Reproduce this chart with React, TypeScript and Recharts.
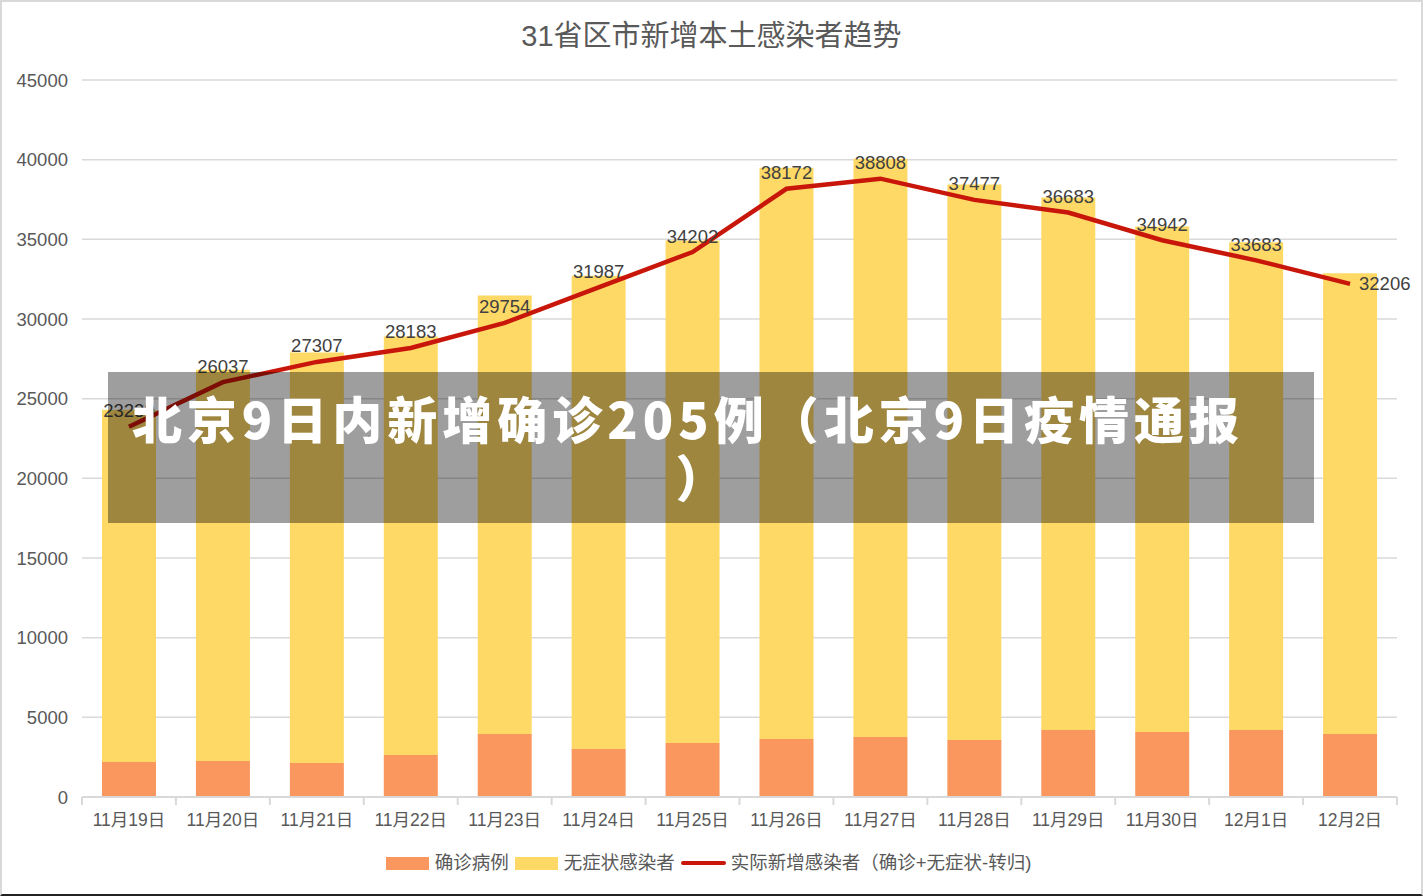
import React from 'react';
import {
  ComposedChart,
  Bar,
  Line,
  XAxis,
  YAxis,
  CartesianGrid,
  LabelList,
} from 'recharts';

const dates = [
  '11月19日', '11月20日', '11月21日', '11月22日', '11月23日', '11月24日', '11月25日',
  '11月26日', '11月27日', '11月28日', '11月29日', '11月30日', '12月1日', '12月2日',
];
const confirmed = [2200, 2260, 2130, 2640, 3950, 3010, 3390, 3640, 3770, 3580, 4210, 4080, 4210, 3950];
const asymptomatic = [22100, 24550, 25770, 26260, 27520, 29710, 31530, 35860, 36280, 34860, 33410, 31720, 30600, 28920];
const actualNew = [23239, 26037, 27307, 28183, 29754, 31987, 34202, 38172, 38808, 37477, 36683, 34942, 33683, 32206];
const yTicks = [0, 5000, 10000, 15000, 20000, 25000, 30000, 35000, 40000, 45000];

const chartData = dates.map((d, i) => ({
  date: d,
  confirmed: confirmed[i],
  asymptomatic: asymptomatic[i],
  actual: actualNew[i],
}));

const FONT = '"Liberation Sans", Arial, "Noto Sans CJK SC", sans-serif';
const TEXT = '#595959';
const GRID = '#d9d9d9';
const ORANGE = '#F9975F';
const YELLOW = '#FFD966';
const RED = '#C8170A';

const XTick = (props: any) => {
  const { x, y, payload, index } = props;
  const half = payload && payload.offset ? payload.offset : 47;
  const top = y - 8;
  return (
    <g>
      <line x1={x - half} x2={x - half} y1={top} y2={y} stroke={GRID} strokeWidth={2} />
      {index === dates.length - 1 && (
        <line x1={x + half} x2={x + half} y1={top} y2={y} stroke={GRID} strokeWidth={2} />
      )}
      <text x={x} y={y + 21} textAnchor="middle" fill={TEXT} fontSize={17.5} fontFamily={FONT}>
        {payload.value}
      </text>
    </g>
  );
};

const LineLabel = (props: any) => {
  const { x, y, value, index } = props;
  if (index === actualNew.length - 1) {
    return (
      <text x={x + 9} y={y} dy="0.35em" textAnchor="start" fill="#404040" fontSize={18.5} fontFamily={FONT}>
        {value}
      </text>
    );
  }
  return (
    <text x={x} y={y - 16} dy="0.35em" textAnchor="middle" fill="#404040" fontSize={18.5} fontFamily={FONT}>
      {value}
    </text>
  );
};

const LegendItem = ({ kind, color, label }: { kind: 'rect' | 'line'; color: string; label: string }) => (
  <div style={{ display: 'flex', alignItems: 'center', marginRight: 6 }}>
    {kind === 'rect' ? (
      <div style={{ width: 43, height: 13, background: color, marginRight: 6 }} />
    ) : (
      <div style={{ width: 45, height: 4, borderRadius: 2, background: color, marginRight: 5 }} />
    )}
    <span>{label}</span>
  </div>
);

export default function App() {
  return (
    <div style={{ position: 'absolute', left: 0, top: 0, width: 1423, height: 896, background: '#fff', overflow: 'hidden' }}>
      <div
        style={{
          position: 'absolute', left: 0, top: 14, width: 1423, textAlign: 'center',
          fontFamily: FONT, fontSize: 29, color: TEXT, lineHeight: '44px',
        }}
      >
        31省区市新增本土感染者趋势
      </div>

      <ComposedChart width={1423} height={896} data={chartData} margin={{ top: 80, right: 26, bottom: 69, left: 0 }}>
        <CartesianGrid vertical={false} stroke={GRID} strokeWidth={1.5} />
        <XAxis
          dataKey="date"
          height={30}
          tickLine={false}
          axisLine={{ stroke: GRID, strokeWidth: 2 }}
          tick={<XTick />}
          interval={0}
        />
        <YAxis
          width={82}
          domain={[0, 45000]}
          ticks={yTicks}
          axisLine={false}
          tickLine={false}
          tickMargin={8}
          tick={{ fill: TEXT, fontSize: 18.5, fontFamily: FONT }}
        />
        <Bar dataKey="confirmed" stackId="a" fill={ORANGE} barSize={54} isAnimationActive={false} />
        <Bar dataKey="asymptomatic" stackId="a" fill={YELLOW} barSize={54} isAnimationActive={false} />
        <Line
          dataKey="actual"
          type="linear"
          stroke={RED}
          strokeWidth={4.5}
          dot={false}
          activeDot={false}
          isAnimationActive={false}
        >
          <LabelList dataKey="actual" content={<LineLabel />} />
        </Line>
      </ComposedChart>

      <div
        style={{
          position: 'absolute', left: 0, top: 850, width: 1423, display: 'flex', justifyContent: 'center',
          fontFamily: FONT, fontSize: 18.5, color: TEXT, lineHeight: '26px',
        }}
      >
        <LegendItem kind="rect" color={ORANGE} label="确诊病例" />
        <LegendItem kind="rect" color={YELLOW} label="无症状感染者" />
        <LegendItem kind="line" color={RED} label="实际新增感染者（确诊+无症状-转归)" />
      </div>

      <div
        style={{
          position: 'absolute', left: 108, top: 372, width: 1206, height: 151,
          background: 'rgba(0,0,0,0.38)',
        }}
      />
      <div
        style={{
          position: 'absolute', left: 0, top: 388, width: 1376, textAlign: 'center',
          fontFamily: '"Noto Sans CJK SC", sans-serif', fontWeight: 900, fontSize: 50,
          letterSpacing: 5, color: '#fff', lineHeight: '58px', whiteSpace: 'nowrap',
        }}
      >
        <div>北京9日内新增确诊205例（北京9日疫情通报</div>
        <div style={{ paddingLeft: 30 }}>）</div>
      </div>

      <div
        style={{
          position: 'absolute', left: 0, top: 0, width: 1423, height: 896, boxSizing: 'border-box',
          borderTop: `2px solid ${GRID}`, borderLeft: `2px solid ${GRID}`, borderRight: `2px solid ${GRID}`,
          borderBottom: '2px solid #222', pointerEvents: 'none',
        }}
      />
    </div>
  );
}
